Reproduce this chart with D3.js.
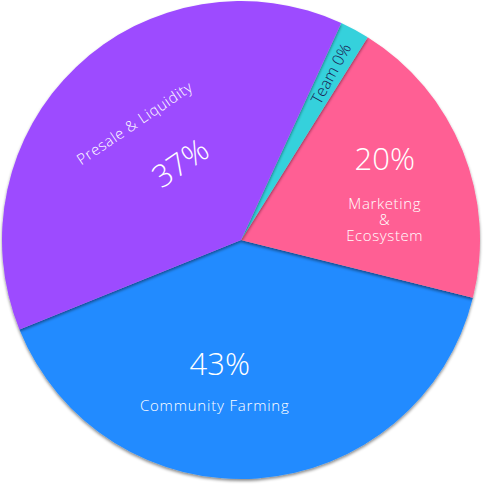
<!DOCTYPE html>
<html>
<head>
<meta charset="utf-8">
<script src="https://cdn.jsdelivr.net/npm/d3@7"></script>
<style>
  body { margin: 0; background: #fff; }
  svg text { font-family: "Open Sans", "Lato", sans-serif; font-weight: 300; }
</style>
</head>
<body>
<div id="chart"></div>
<script>
// slices, in drawing order clockwise from just right of 12 o'clock
var categories = ["Team", "Marketing & Ecosystem", "Community Farming", "Presale & Liquidity"];
var shares = [2, 20, 40, 38];            // arc sizes
var percentLabels = ["0%", "20%", "43%", "37%"];
var colors = ["#36d1dc", "#ff5e94", "#228bff", "#9d4bff"];

var w = 490, h = 490;
var cx = 241, cy = 240, radius = 239;
var startDeg = 24.8;

var svg = d3.select("#chart").append("svg")
  .attr("width", w)
  .attr("height", h);

var defs = svg.append("defs");
var f = defs.append("filter").attr("id", "shadow")
  .attr("x", "-10%").attr("y", "-10%").attr("width", "120%").attr("height", "120%");
f.append("feDropShadow")
  .attr("dx", 0).attr("dy", 2)
  .attr("stdDeviation", 1.8)
  .attr("flood-color", "#000")
  .attr("flood-opacity", 0.45);

var pie = d3.pie().sort(null)
  .startAngle(startDeg * Math.PI / 180)
  .endAngle(startDeg * Math.PI / 180 + 2 * Math.PI);

var arcs = pie(shares);
var arc = d3.arc().innerRadius(0).outerRadius(radius);

var g = svg.append("g").attr("transform", "translate(" + cx + "," + cy + ")");

// the big blue slice sits underneath so the others throw their shadow on it
var drawOrder = [2, 1, 0, 3];
g.selectAll("path")
  .data(drawOrder.map(function(i) { return arcs[i]; }))
  .enter()
  .append("path")
  .attr("d", arc)
  .attr("fill", function(d) { return colors[d.index]; })
  .attr("filter", "url(#shadow)");

function polar(d, r, shiftDeg) {
  var a = (d.startAngle + d.endAngle) / 2 + (shiftDeg || 0) * Math.PI / 180;
  return [Math.sin(a) * r, -Math.cos(a) * r];
}

// Team: rotated along the radius, dark text
var team = arcs[0];
var p = polar(team, 189);
var rot = ((team.startAngle + team.endAngle) / 2) * 180 / Math.PI - 90;
g.append("text")
  .attr("transform", "translate(" + p[0] + "," + p[1] + ") rotate(" + rot + ")")
  .attr("text-anchor", "middle")
  .attr("dy", "0.35em")
  .attr("font-size", "16px")
  .attr("fill", "#1b2153")
  .text(categories[0] + " " + percentLabels[0]);

// Marketing & Ecosystem
var mk = arcs[1];
var pm = polar(mk, 155, 0);
g.append("text")
  .attr("x", pm[0]).attr("y", pm[1] - 12)
  .attr("text-anchor", "middle")
  .attr("font-size", "31px")
  .attr("fill", "#fff")
  .text(percentLabels[1]);
var mkLines = ["Marketing", "&", "Ecosystem"];
g.append("text")
  .attr("text-anchor", "middle")
  .attr("font-size", "15px")
  .attr("letter-spacing", "0.6px")
  .attr("fill", "#fff")
  .selectAll("tspan")
  .data(mkLines)
  .enter()
  .append("tspan")
  .attr("x", pm[0])
  .attr("y", function(d, i) { return pm[1] + 27 + i * 16; })
  .text(function(d) { return d; });

// Community Farming
var cf = arcs[2];
var pc = polar(cf, 150, 6);
g.append("text")
  .attr("x", pc[0] - 16).attr("y", pc[1] - 15)
  .attr("text-anchor", "middle")
  .attr("font-size", "31px")
  .attr("fill", "#fff")
  .text(percentLabels[2]);
g.append("text")
  .attr("x", pc[0] - 21).attr("y", pc[1] + 21)
  .attr("text-anchor", "middle")
  .attr("font-size", "15px")
  .attr("letter-spacing", "0.8px")
  .attr("fill", "#fff")
  .text(categories[2]);

// Presale & Liquidity, tilted
var ps = arcs[3];
var pp = polar(ps, 158, 1.3);
g.append("text")
  .attr("transform", "translate(" + pp[0] + "," + pp[1] + ") rotate(-34)")
  .attr("text-anchor", "middle")
  .attr("dy", "0.35em")
  .attr("font-size", "15px")
  .attr("letter-spacing", "0.6px")
  .attr("fill", "#fff")
  .text(categories[3]);
var pp2 = polar(ps, 98, 5.4);
g.append("text")
  .attr("transform", "translate(" + pp2[0] + "," + pp2[1] + ") rotate(-34)")
  .attr("text-anchor", "middle")
  .attr("dy", "0.35em")
  .attr("font-size", "31px")
  .attr("fill", "#fff")
  .text(percentLabels[3]);
</script>
</body>
</html>
